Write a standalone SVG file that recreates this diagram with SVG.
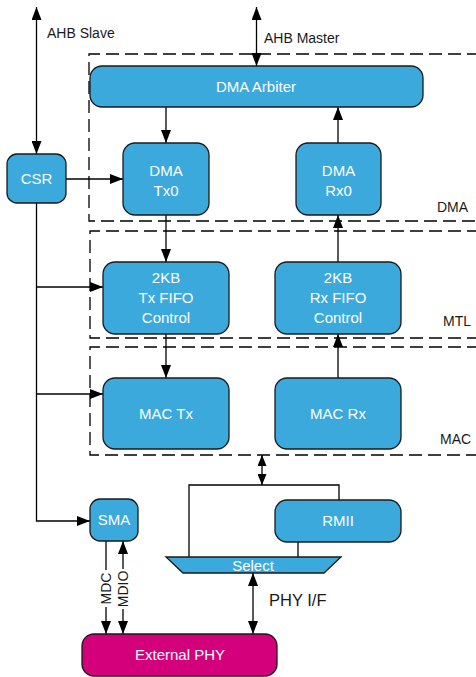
<svg xmlns="http://www.w3.org/2000/svg" width="476" height="677" viewBox="0 0 476 677">
<defs>
<style>
.box{fill:#3BA9DC;stroke:#1a1a1a;stroke-width:1.3}
.phy{fill:#D4007B;stroke:#1a1a1a;stroke-width:1.3}
.t{font-family:"Liberation Sans",Arial,sans-serif;font-size:15px;fill:#ffffff;text-anchor:middle}
.lbl{font-family:"Liberation Sans",Arial,sans-serif;font-size:14px;fill:#1a1a1a}
.ln{fill:none;stroke:#000;stroke-width:1.3}
.dash{fill:none;stroke:#000;stroke-width:1.3;stroke-dasharray:13 6}
</style>
<marker id="ah" markerUnits="userSpaceOnUse" markerWidth="14" markerHeight="10" refX="13" refY="5" orient="auto-start-reverse">
<path d="M0,0 L13,5 L0,10 Z" fill="#000"/>
</marker>
<marker id="ahs" markerUnits="userSpaceOnUse" markerWidth="11" markerHeight="9" refX="11" refY="4.5" orient="auto-start-reverse">
<path d="M0,0 L11,4.5 L0,9 Z" fill="#000"/>
</marker>
</defs>
<rect width="476" height="677" fill="#ffffff"/>

<g id="regions">
<path class="dash" d="M480,54 H89 V221 H480"/>
<path class="dash" d="M480,231 H90 V338 H480"/>
<path class="dash" d="M480,347 H90 V455 H480"/>
<text class="lbl" x="437" y="212">DMA</text>
<text class="lbl" x="443" y="326">MTL</text>
<text class="lbl" x="440" y="444">MAC</text>
</g>

<g id="connectors">
<line class="ln" x1="36.5" y1="7" x2="36.5" y2="154" marker-start="url(#ah)" marker-end="url(#ah)"/>
<line class="ln" x1="256.5" y1="7" x2="256.5" y2="66" marker-start="url(#ah)" marker-end="url(#ah)"/>
<line class="ln" x1="166" y1="107" x2="166" y2="143" marker-end="url(#ah)"/>
<line class="ln" x1="338" y1="143" x2="338" y2="107" marker-end="url(#ah)"/>
<line class="ln" x1="66" y1="179" x2="123" y2="179" marker-end="url(#ah)"/>
<line class="ln" x1="166" y1="215" x2="166" y2="262" marker-end="url(#ah)"/>
<line class="ln" x1="338" y1="262" x2="338" y2="215" marker-end="url(#ah)"/>
<line class="ln" x1="166" y1="334" x2="166" y2="378" marker-end="url(#ah)"/>
<line class="ln" x1="338" y1="378" x2="338" y2="334" marker-end="url(#ah)"/>
<polyline class="ln" points="36.5,203 36.5,521 90,521" marker-end="url(#ah)"/>
<line class="ln" x1="36.5" y1="287" x2="103" y2="287" marker-end="url(#ah)"/>
<line class="ln" x1="36.5" y1="394" x2="103" y2="394" marker-end="url(#ah)"/>
<line class="ln" x1="262" y1="455" x2="262" y2="485" marker-start="url(#ahs)" marker-end="url(#ahs)"/>
<polyline class="ln" points="189,557 189,485 339,485 339,500"/>
<line class="ln" x1="298" y1="542" x2="298" y2="557"/>
<line class="ln" x1="253" y1="573" x2="253" y2="634" marker-start="url(#ah)" marker-end="url(#ah)"/>
<line class="ln" x1="106" y1="541" x2="106" y2="570"/>
<line class="ln" x1="106" y1="607" x2="106" y2="634" marker-end="url(#ah)"/>
<line class="ln" x1="123" y1="541" x2="123" y2="569" marker-start="url(#ah)"/>
<line class="ln" x1="123" y1="609" x2="123" y2="634" marker-end="url(#ah)"/>
<text class="lbl" x="47" y="38">AHB Slave</text>
<text class="lbl" x="264" y="43">AHB Master</text>
<text class="lbl" x="269" y="606" style="font-size:16.5px">PHY I/F</text>
<text class="lbl" transform="translate(111,588.5) rotate(-90)" text-anchor="middle">MDC</text>
<text class="lbl" transform="translate(128,589) rotate(-90)" text-anchor="middle">MDIO</text>
</g>

<g id="csr"><rect class="box" x="7" y="154" width="59" height="49" rx="10"/><text class="t" x="36.5" y="184">CSR</text></g>
<g id="dma-arbiter"><rect class="box" x="90" y="66" width="333" height="41" rx="12"/><text class="t" x="256" y="92">DMA Arbiter</text></g>
<g id="dma-tx0"><rect class="box" x="123" y="143" width="86" height="72" rx="12"/><text class="t" x="166" y="176">DMA</text><text class="t" x="166" y="196">Tx0</text></g>
<g id="dma-rx0"><rect class="box" x="296" y="143" width="85" height="72" rx="12"/><text class="t" x="338.5" y="176">DMA</text><text class="t" x="338.5" y="196">Rx0</text></g>
<g id="tx-fifo"><rect class="box" x="103" y="262" width="126" height="72" rx="12"/><text class="t" x="166" y="283">2KB</text><text class="t" x="166" y="303">Tx FIFO</text><text class="t" x="166" y="323">Control</text></g>
<g id="rx-fifo"><rect class="box" x="275" y="262" width="126" height="72" rx="12"/><text class="t" x="338" y="283">2KB</text><text class="t" x="338" y="303">Rx FIFO</text><text class="t" x="338" y="323">Control</text></g>
<g id="mac-tx"><rect class="box" x="103" y="378" width="126" height="71" rx="12"/><text class="t" x="166" y="418.5">MAC Tx</text></g>
<g id="mac-rx"><rect class="box" x="275" y="378" width="126" height="71" rx="12"/><text class="t" x="338" y="418.5">MAC Rx</text></g>
<g id="sma"><rect class="box" x="90" y="499" width="48" height="42" rx="10"/><text class="t" x="114" y="525">SMA</text></g>
<g id="rmii"><rect class="box" x="275" y="500" width="126" height="42" rx="12"/><text class="t" x="338" y="526">RMII</text></g>
<g id="select"><polygon class="box" points="166,557 341,557 324,573 183,573"/><text class="t" x="253" y="571">Select</text></g>
<g id="external-phy"><rect class="phy" x="82" y="634" width="195" height="42" rx="12"/><text class="t" x="180" y="660">External PHY</text></g>
</svg>
